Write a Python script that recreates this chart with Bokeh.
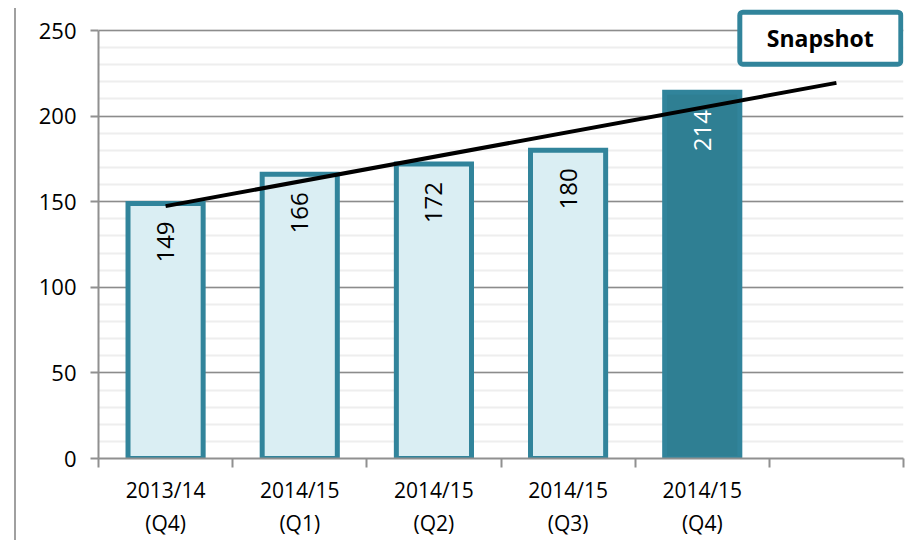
import numpy as np
from bokeh.plotting import figure
from bokeh.models import FixedTicker, SingleIntervalTicker, Range1d, Label
from bokeh.core.properties import value
from bokeh.embed import file_html
from bokeh.resources import INLINE

categories = ["2013/14\n(Q4)", "2014/15\n(Q1)", "2014/15\n(Q2)", "2014/15\n(Q3)", "2014/15\n(Q4)"]
values = [149, 166, 172, 180, 214]
n_slots = 6
y_max = 250
y_step = 50
snapshot_text = "Snapshot"

TEAL = "#31849B"
DARK = "#2F7F93"
LIGHT = "#DAEEF3"
FONT = "Open Sans"

idx = np.arange(len(values))
centers = idx + 0.5
fills = [LIGHT] * (len(values) - 1) + [DARK]
label_colors = ["black"] * (len(values) - 1) + ["white"]

# linear trend, extended one period ahead
slope, intercept = np.polyfit(idx, values, 1)
trend_x = np.array([0, len(values)])
trend_y = intercept + slope * trend_x

# frame extends 22px above the top gridline so the snapshot box is not clipped
plot_h = 428
headroom_px = 22
y_top = y_max * (1 + headroom_px / plot_h)

p = figure(width=894, height=532, output_backend="svg", toolbar_location=None,
           x_range=Range1d(0, n_slots), y_range=Range1d(0, y_top),
           min_border_left=82, min_border_right=7, min_border_top=0, min_border_bottom=82)
p.styles = {"border-left": "2px solid #A0A0A0", "margin-left": "14px", "margin-top": "8px"}
p.outline_line_color = None

p.vbar(x=centers, top=values, width=0.56, fill_color=fills, line_color=TEAL,
       line_width=5, line_join="miter")

p.text(x=centers, y=values, text=[str(v) for v in values], angle=np.pi / 2,
       text_align="right", text_baseline="middle", y_offset=18,
       text_color=label_colors, text_font=value(FONT), text_font_size="24px")

p.line(x=trend_x + 0.5, y=trend_y, line_color="black", line_width=4)

# axes
p.xaxis.ticker = FixedTicker(ticks=list(centers), minor_ticks=list(range(n_slots + 1)))
p.xaxis.major_label_overrides = {float(c): lab for c, lab in zip(centers, categories)}
p.xaxis.major_tick_line_color = None
p.xaxis.minor_tick_line_color = "#909090"
p.xaxis.minor_tick_line_width = 2
p.xaxis.minor_tick_out = 9
p.xaxis.minor_tick_in = 0
p.xaxis.axis_line_color = "#909090"
p.xaxis.axis_line_width = 2
p.xaxis.major_label_text_font = FONT
p.xaxis.major_label_text_font_size = "21px"
p.xaxis.major_label_text_color = "black"
p.xaxis.major_label_standoff = 8

p.yaxis.ticker = SingleIntervalTicker(interval=y_step, num_minor_ticks=5)
p.yaxis.bounds = (0, y_max)
p.yaxis.minor_tick_line_color = None
p.yaxis.major_tick_line_color = "#909090"
p.yaxis.major_tick_line_width = 2
p.yaxis.major_tick_out = 8
p.yaxis.major_tick_in = 0
p.yaxis.axis_line_color = "#909090"
p.yaxis.axis_line_width = 2
p.yaxis.major_label_text_font = FONT
p.yaxis.major_label_text_font_size = "22px"
p.yaxis.major_label_text_color = "black"
p.yaxis.major_label_standoff = 14

p.xgrid.visible = False
p.ygrid.bounds = (0, y_max)
p.ygrid.grid_line_color = "#8C8C8C"
p.ygrid.grid_line_width = 1.5
p.ygrid.minor_grid_line_color = "#EEEEEE"
p.ygrid.minor_grid_line_width = 2

snap = Label(x=5.38, y=245.5, text=snapshot_text, text_align="center", text_baseline="middle",
             text_font=FONT, text_font_style="bold", text_font_size="23px", text_color="black",
             background_fill_color="white", border_line_color=TEAL, border_line_width=5,
             padding=(27, 10), border_radius=3)
p.add_layout(snap)

open("out.html", "w").write(file_html(p, INLINE))
